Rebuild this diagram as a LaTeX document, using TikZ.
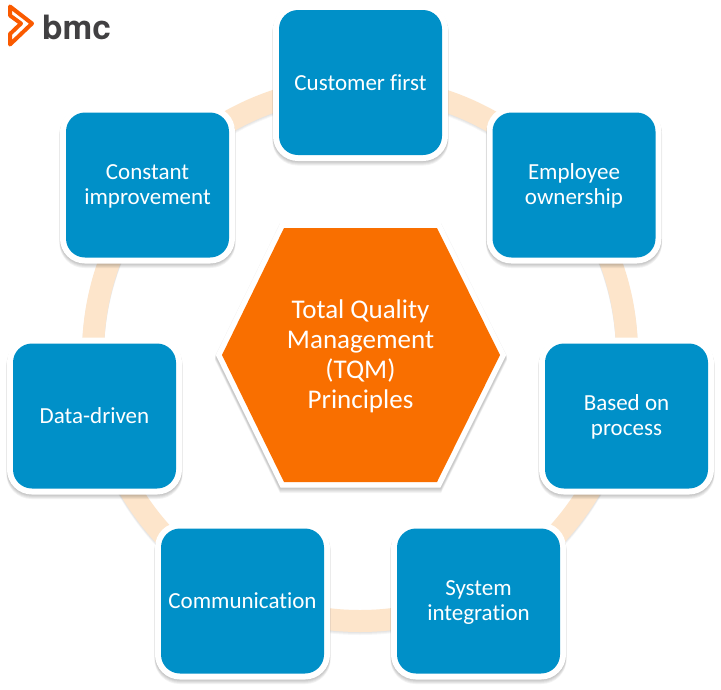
\documentclass[tikz,border=0pt]{standalone}
\usepackage{fontspec}
\setmainfont[Ligatures=NoCommon]{Carlito}
\newfontfamily\logofont{TeX Gyre Heros}
\definecolor{boxblue}{HTML}{0090C8}
\definecolor{hexorange}{HTML}{F96F00}
\definecolor{ringpeach}{HTML}{FDE5CB}
\definecolor{logoorange}{HTML}{FA5A00}
\definecolor{logogrey}{HTML}{414042}
\tikzset{
  card/.style={rectangle,rounded corners=19pt,minimum width=163pt,minimum height=145pt,outer sep=0pt,
    fill=boxblue,draw=none,inner sep=0pt,preaction={draw=white,line width=12pt}},
  cardtext/.style={text=white,align=center,font=\fontsize{23}{25}\selectfont,inner sep=0pt},
  hextext/.style={text=white,align=center,font=\fontsize{27}{30}\selectfont,inner sep=0pt},
}
\newcommand{\cardat}[5]{%
  \foreach \g in {1,...,5}{\fill[black,fill opacity=0.05,rounded corners=25pt]
    ({#2-87.5-\g*0.12},{#3-78+\g*0.6}) rectangle ({#2+87.5+\g*0.12},{#3+78+\g});}
  \node[card] (#1) at (#2,#3) {};
  \node[cardtext] (#1t) at ([yshift=#4]#1.center) {#5};}
\begin{document}
\begin{tikzpicture}[x=1pt,y=-1pt]
\useasboundingbox (0,0) rectangle (721,689);
\fill[white] (0,0) rectangle (721,689);
% ring and its shadow
\foreach \g in {1,2,3}{\draw[black,opacity=0.035,line width=22pt] (360,{354+\g}) circle [radius=267];}
\draw[ringpeach,line width=22pt] (360,354) circle [radius=267];
% cards
\cardat{c1}{360.5}{82.5}{0pt}{Customer first}
\cardat{c2}{574}{185}{-1pt}{Employee\\ownership}
\cardat{c3}{626.5}{416}{-1pt}{Based on\\process}
\cardat{c4}{478.5}{601}{-2pt}{System\\integration}
\cardat{c5}{242.5}{601}{0.5pt}{Communication}
\cardat{c6}{94.5}{416}{0pt}{Data-driven}
\cardat{c7}{147.5}{185}{-1pt}{Constant\\improvement}
% hexagon
\foreach \g in {1,...,5}{\fill[black,fill opacity=0.045] (280,{222+\g}) -- (441,{222+\g}) -- (507,{355+\g}) -- (441,{488+\g}) -- (280,{488+\g}) -- (215,{355+\g}) -- cycle;}
\path[fill=white,draw=white,line width=11pt,line join=miter] (284,228) -- (437,228) -- (500,355) -- (437,482) -- (284,482) -- (222,355) -- cycle;
\path[fill=hexorange] (284,228) -- (437,228) -- (500,355) -- (437,482) -- (284,482) -- (222,355) -- cycle;
\coordinate (hexc) at (360.5,356.3);
\node[hextext] (centre) at (hexc) {Total Quality\\Management\\(TQM)\\Principles};
% logo
\draw[logoorange,line width=4pt,line join=round,line cap=round]
  (10,6.5) -- (32,23.5) -- (10,44.5) -- (10,34) -- (21,23.5) -- (10,15.5) -- cycle;
\node[text=logogrey,font=\logofont\bfseries\fontsize{33.5}{34}\selectfont,anchor=base west,inner sep=0pt] (logo) at (42,39) {bmc};
\end{tikzpicture}
\end{document}
